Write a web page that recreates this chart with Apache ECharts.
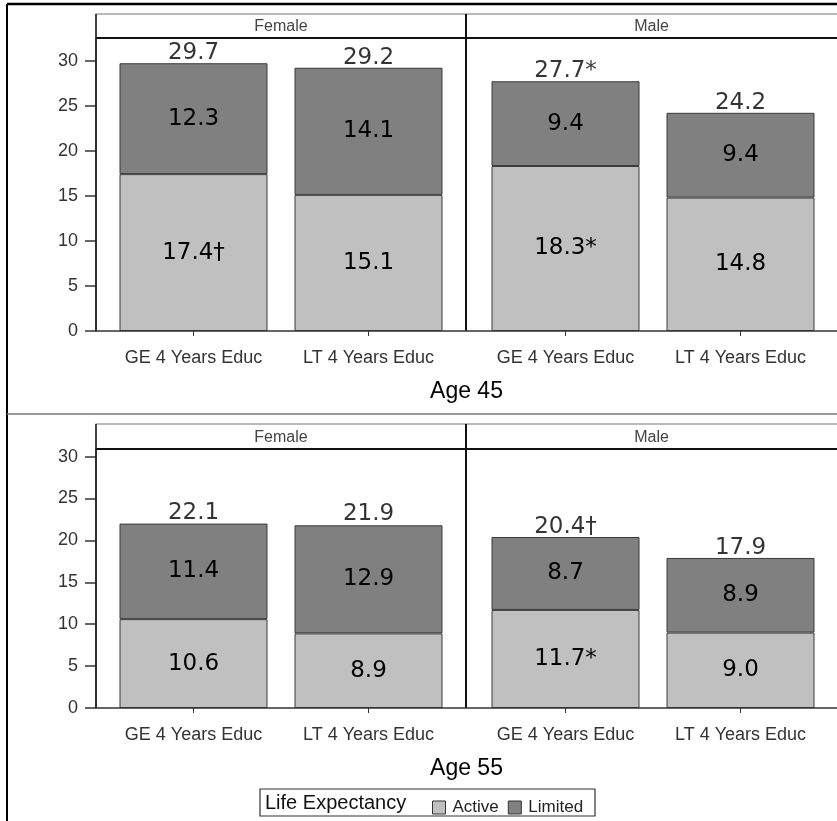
<!DOCTYPE html>
<html>
<head>
<meta charset="utf-8">
<script src="https://cdn.jsdelivr.net/npm/echarts@6/dist/echarts.min.js"></script>
<style>html,body{margin:0;padding:0;background:#fff}#c{width:837px;height:821px}</style>
</head>
<body>
<div id="c"></div>
<script>
// ---- data ----
const categories = ['GE 4 Years Educ', 'LT 4 Years Educ'];
const panelNames = ['Female', 'Male'];
const ageNames = ['Age 45', 'Age 55'];
const seriesNames = ['Active', 'Limited'];

const active45F = [17.4, 15.1];
const limited45F = [12.3, 14.1];
const total45F = [29.7, 29.2];
const activeLbl45F = ['17.4\u2020', '15.1'];
const limitedLbl45F = ['12.3', '14.1'];
const totalLbl45F = ['29.7', '29.2'];

const active45M = [18.3, 14.8];
const limited45M = [9.4, 9.4];
const total45M = [27.7, 24.2];
const activeLbl45M = ['18.3*', '14.8'];
const limitedLbl45M = ['9.4', '9.4'];
const totalLbl45M = ['27.7*', '24.2'];

const active55F = [10.6, 8.9];
const limited55F = [11.4, 12.9];
const total55F = [22.1, 21.9];
const activeLbl55F = ['10.6', '8.9'];
const limitedLbl55F = ['11.4', '12.9'];
const totalLbl55F = ['22.1', '21.9'];

const active55M = [11.7, 9.0];
const limited55M = [8.7, 8.9];
const total55M = [20.4, 17.9];
const activeLbl55M = ['11.7*', '9.0'];
const limitedLbl55M = ['8.7', '8.9'];
const totalLbl55M = ['20.4\u2020', '17.9'];

const yTicksMax = [32.5, 30.9];

// ---- layout ----
const rows = [
  {hTop: 14, pTop: 38, pBottom: 331, ageY: 392},
  {hTop: 424, pTop: 449, pBottom: 708, ageY: 769}
];
const H = 821;
const plotLeft = 96, divider = 466, plotRight = 837;
const gridX = [{left: 106, width: 350}, {left: 478, width: 350}];
const COL_ACTIVE = '#C0C0C0', COL_LIMITED = '#808080', BORDER = '#3a3a3a';
const axisFont = 'Liberation Sans, Arial, sans-serif';
const valFont = 'DejaVu Sans, Verdana, sans-serif';

const panelData = [
  [[active45F, limited45F, total45F, activeLbl45F, limitedLbl45F, totalLbl45F],
   [active45M, limited45M, total45M, activeLbl45M, limitedLbl45M, totalLbl45M]],
  [[active55F, limited55F, total55F, activeLbl55F, limitedLbl55F, totalLbl55F],
   [active55M, limited55M, total55M, activeLbl55M, limitedLbl55M, totalLbl55M]]
];

const grid = [], xAxis = [], yAxis = [], series = [], graphic = [];
let gi = 0;
rows.forEach((r, ri) => {
  panelData[ri].forEach((pd, pi) => {
    grid.push({left: gridX[pi].left, width: gridX[pi].width, top: r.pTop, bottom: H - r.pBottom, containLabel: false});
    xAxis.push({
      type: 'category', gridIndex: gi, data: categories,
      axisLine: {show: false},
      axisTick: {show: true, alignWithLabel: true, length: 5, lineStyle: {color: '#333'}},
      axisLabel: {margin: 18, fontSize: 18, color: '#333', fontFamily: axisFont, interval: 0, hideOverlap: false}
    });
    yAxis.push({
      type: 'value', gridIndex: gi, min: 0, max: yTicksMax[ri], interval: 5,
      show: pi === 0, offset: 10,
      axisLine: {show: true, lineStyle: {color: '#222', width: 1.5}},
      axisTick: {show: true, length: 11, lineStyle: {color: '#333', width: 1.5}},
      axisLabel: {margin: 18, fontSize: 18, color: '#333', fontFamily: axisFont, showMaxLabel: false},
      splitLine: {show: false}
    });
    const stackId = 's' + gi;
    series.push({
      type: 'bar', name: seriesNames[0], xAxisIndex: gi, yAxisIndex: gi, stack: stackId,
      data: pd[0], barWidth: 148,
      itemStyle: {color: COL_ACTIVE, borderColor: BORDER, borderWidth: 1},
      label: {show: true, position: 'inside', fontSize: 23, color: '#000', fontFamily: valFont,
        formatter: (p) => pd[3][p.dataIndex]}
    });
    series.push({
      type: 'bar', name: seriesNames[1], xAxisIndex: gi, yAxisIndex: gi, stack: stackId,
      data: pd[1], barWidth: 148,
      itemStyle: {color: COL_LIMITED, borderColor: BORDER, borderWidth: 1},
      label: {show: true, position: 'inside', fontSize: 23, color: '#000', fontFamily: valFont,
        formatter: (p) => pd[4][p.dataIndex]}
    });
    series.push({
      type: 'scatter', xAxisIndex: gi, yAxisIndex: gi, data: pd[2], symbolSize: 1,
      itemStyle: {color: 'rgba(0,0,0,0)'}, silent: true, z: 20,
      label: {show: true, position: 'top', distance: -2, fontSize: 23, color: '#000', fontFamily: valFont,
        formatter: (p) => pd[5][p.dataIndex]}
    });
    gi++;
  });

  // frame graphics
  graphic.push({type: 'rect', shape: {x: plotLeft, y: r.hTop, width: plotRight - plotLeft + 2, height: r.pTop - r.hTop},
    style: {fill: '#fff', stroke: '#777', lineWidth: 1.2}, z: 1});
  graphic.push({type: 'line', shape: {x1: plotLeft, y1: r.pTop, x2: plotRight, y2: r.pTop}, style: {stroke: '#111', lineWidth: 2}, z: 10});
  graphic.push({type: 'line', shape: {x1: plotLeft, y1: r.hTop, x2: plotLeft, y2: r.pBottom}, style: {stroke: '#222', lineWidth: 1.5}, z: 10});
  graphic.push({type: 'line', shape: {x1: divider, y1: r.hTop, x2: divider, y2: r.pBottom}, style: {stroke: '#111', lineWidth: 2}, z: 10});
  graphic.push({type: 'line', shape: {x1: plotLeft, y1: r.pBottom, x2: plotRight, y2: r.pBottom}, style: {stroke: '#333', lineWidth: 1.5}, z: 10});
  panelNames.forEach((nm, pi) => {
    const cx = pi === 0 ? (plotLeft + divider) / 2 : (divider + plotRight) / 2;
    graphic.push({type: 'text', x: cx, y: (r.hTop + r.pTop) / 2 + 1, z: 11,
      style: {text: nm, fontSize: 16, fill: '#444', fontFamily: axisFont, textAlign: 'center', textVerticalAlign: 'middle'}});
  });
  graphic.push({type: 'text', x: (plotLeft + plotRight) / 2, y: r.ageY, z: 11,
    style: {text: ageNames[ri], fontSize: 23, fill: '#000', fontFamily: axisFont, fontWeight: 'normal', textAlign: 'center', textVerticalAlign: 'middle'}});
});

// outer frame & separators
graphic.push({type: 'line', shape: {x1: 7, y1: 4, x2: 837, y2: 4}, style: {stroke: '#000', lineWidth: 2.5}, z: 10});
graphic.push({type: 'line', shape: {x1: 7, y1: 4, x2: 7, y2: 821}, style: {stroke: '#000', lineWidth: 2}, z: 10});
graphic.push({type: 'line', shape: {x1: 7, y1: 414, x2: 837, y2: 414}, style: {stroke: '#777', lineWidth: 1.5}, z: 10});
// legend box and title
graphic.push({type: 'rect', shape: {x: 260, y: 789, width: 335, height: 27}, style: {fill: '#fff', stroke: '#333', lineWidth: 1.2}, z: 1});
graphic.push({type: 'text', x: 265, y: 803, z: 11,
  style: {text: 'Life Expectancy', fontSize: 20, fill: '#111', fontFamily: axisFont, textAlign: 'left', textVerticalAlign: 'middle'}});

const chart = echarts.init(document.getElementById('c'), null, {renderer: 'canvas'});
chart.setOption({
  animation: false,
  backgroundColor: '#fff',
  grid, xAxis, yAxis, series, graphic,
  legend: {
    data: seriesNames, left: 427, top: 794, itemWidth: 13, itemHeight: 13, itemGap: 9,
    icon: 'rect', z: 20,
    itemStyle: {borderColor: '#333', borderWidth: 1},
    textStyle: {fontSize: 17, color: '#222', fontFamily: axisFont, padding: [0, 0, 0, 2]}
  }
});
</script>
</body>
</html>
